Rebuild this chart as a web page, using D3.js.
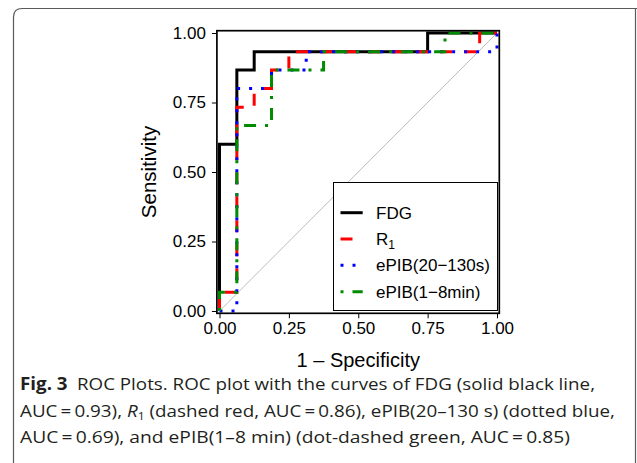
<!DOCTYPE html>
<html><head><meta charset="utf-8">
<script src="https://cdn.jsdelivr.net/npm/d3@7"></script>
<style>
html,body{margin:0;padding:0;background:#fff;}
svg{display:block;}
</style></head>
<body>
<svg id="chart" width="637" height="463"></svg>
<script>
// ---- data ----
const seriesNames = ["FDG", "R1", "ePIB(20\u2212130s)", "ePIB(1\u22128min)"];
const fdgX   = [0, 0, 0.0625, 0.0625, 0.125, 0.125, 0.75, 0.75, 1];
const fdgY   = [0, 0.600, 0.600, 0.867, 0.867, 0.933, 0.933, 1, 1];
const r1X    = [0, 0, 0.0625, 0.0625, 0.125, 0.125, 0.1875, 0.1875, 0.25, 0.25, 0.9375, 0.9375, 1];
const r1Y    = [0, 0.067, 0.067, 0.733, 0.733, 0.800, 0.800, 0.867, 0.867, 0.933, 0.933, 1, 1];
const ePib1X = [0, 0.0625, 0.0625, 0.1875, 0.1875, 0.3125, 0.3125, 1, 1];
const ePib1Y = [0, 0, 0.800, 0.800, 0.867, 0.867, 0.933, 0.933, 1];
const ePib2X = [0, 0, 0.0625, 0.0625, 0.1875, 0.1875, 0.375, 0.375, 0.8125, 0.8125, 1];
const ePib2Y = [0, 0.067, 0.067, 0.667, 0.667, 0.867, 0.867, 0.933, 0.933, 1, 1];
const tickValues = [0, 0.25, 0.5, 0.75, 1];
const tickLabels = ["0.00", "0.25", "0.50", "0.75", "1.00"];
const xTitle = "1 \u2013 Specificity";
const yTitle = "Sensitivity";

(function () {
const svg = d3.select("#chart");
const x = d3.scaleLinear().domain([0, 1]).range([219.5, 497]);
const y = d3.scaleLinear().domain([0, 1]).range([311, 33]);
const pad = 2.3;

// outer frame
svg.append("path")
  .attr("d", "M13.5,470 L13.5,17 Q13.5,8.5 22,8.5 L640,8.5")
  .attr("fill", "none").attr("stroke", "#5a5a5a").attr("stroke-width", 1.2);
svg.append("line").attr("x1", 635.5).attr("x2", 635.5).attr("y1", 8).attr("y2", 470)
  .attr("stroke", "#5a5a5a").attr("stroke-width", 1.2);

// diagonal
svg.append("line")
  .attr("x1", x(0)).attr("y1", y(0)).attr("x2", x(1)).attr("y2", y(1))
  .attr("stroke", "#bcbcbc").attr("stroke-width", 1);

const styles = [
  {xs: fdgX, ys: fdgY, color: "#000000", dash: null},
  {xs: r1X, ys: r1Y, color: "#ff0000", dash: "12,12"},
  {xs: ePib1X, ys: ePib1Y, color: "#0000ff", dash: "3,9"},
  {xs: ePib2X, ys: ePib2Y, color: "#008b00", dash: "3,9,12,9"}
];
const line = d3.line().x(d => x(d[0])).y(d => y(d[1]));
styles.forEach(s => {
  const pts = s.xs.map((v, i) => [v, s.ys[i]]);
  svg.append("path").datum(pts).attr("d", line)
    .attr("fill", "none").attr("stroke", s.color).attr("stroke-width", 3)
    .attr("stroke-linecap", "butt").attr("stroke-linejoin", "miter")
    .attr("stroke-dasharray", s.dash);
});

// axes
const font = "'Liberation Sans', Arial, Helvetica, sans-serif";
const pLeft = x(0) - pad - 0.3, pRight = x(1) + pad, pTop = y(1) - pad, pBottom = y(0) + pad;
const xAxis = d3.axisBottom(x).tickValues(tickValues).tickFormat((d, i) => tickLabels[i])
  .tickSize(5).tickPadding(4);
const gx = svg.append("g").attr("transform", `translate(0,${pBottom})`).call(xAxis);
gx.select(".domain").remove();
gx.selectAll("text").attr("font-family", font).attr("font-size", 17).attr("fill", "#000");
gx.selectAll("line").attr("stroke", "#000");
const yAxis = d3.axisLeft(y).tickValues(tickValues).tickFormat((d, i) => tickLabels[i])
  .tickSize(5).tickPadding(6);
const gy = svg.append("g").attr("transform", `translate(${pLeft},0)`).call(yAxis);
gy.select(".domain").remove();
gy.selectAll("text").attr("font-family", font).attr("font-size", 17).attr("fill", "#000");
gy.selectAll("line").attr("stroke", "#000");

svg.append("text").attr("x", x(0.5)).attr("y", 367).attr("text-anchor", "middle")
  .attr("font-family", font).attr("font-size", 20).text(xTitle);
svg.append("text").attr("transform", "translate(156,172) rotate(-90)").attr("text-anchor", "middle")
  .attr("font-family", font).attr("font-size", 20.5).text(yTitle);

// legend
const lg = svg.append("g");
lg.append("rect").attr("x", 333.5).attr("y", 182.5).attr("width", 164).attr("height", 128)
  .attr("fill", "#fff").attr("stroke", "#000").attr("stroke-width", 1);
const rowY = [212.7, 239, 265.3, 291.7];
styles.forEach((s, i) => {
  lg.append("line").attr("x1", 340.5).attr("x2", 362.7).attr("y1", rowY[i]).attr("y2", rowY[i])
    .attr("stroke", s.color).attr("stroke-width", 3).attr("stroke-dasharray", s.dash);
  const t = lg.append("text").attr("x", 376).attr("y", rowY[i] + 6)
    .attr("font-family", font).attr("font-size", 17).attr("fill", "#000");
  if (seriesNames[i] === "R1") {
    t.append("tspan").text("R");
    t.append("tspan").attr("font-size", 12).attr("dy", 4).text("1");
  } else t.text(seriesNames[i]);
});

// panel border
svg.append("rect").attr("x", pLeft).attr("y", pTop).attr("width", pRight - pLeft).attr("height", pBottom - pTop)
  .attr("fill", "none").attr("stroke", "#000").attr("stroke-width", 1.7);

// caption
const cf = "'Open Sans', 'Noto Sans', sans-serif";
const cx = 20;
const c1 = svg.append("text").attr("x", cx).attr("y", 390).attr("font-family", cf).attr("font-size", 17)
  .attr("textLength", 575).attr("lengthAdjust", "spacingAndGlyphs").attr("fill", "#231f20");
c1.append("tspan").attr("font-weight", "bold").text("Fig. 3");
c1.append("tspan").text("\u2002ROC Plots. ROC plot with the curves of FDG (solid black line,");
const c2 = svg.append("text").attr("x", cx).attr("y", 417).attr("font-family", cf).attr("font-size", 17)
  .attr("textLength", 595).attr("lengthAdjust", "spacingAndGlyphs").attr("fill", "#231f20");
c2.append("tspan").text("AUC\u2009=\u20090.93), ");
c2.append("tspan").attr("font-style", "italic").text("R");
c2.append("tspan").attr("font-size", 11).attr("dy", 3).text("1");
c2.append("tspan").attr("dy", -3).text(" (dashed red, AUC\u2009=\u20090.86), ePIB(20\u2013130 s) (dotted blue,");
const c3 = svg.append("text").attr("x", cx).attr("y", 443).attr("font-family", cf).attr("font-size", 17)
  .attr("textLength", 550).attr("lengthAdjust", "spacingAndGlyphs").attr("fill", "#231f20")
  .text("AUC\u2009=\u20090.69), and ePIB(1\u20138 min) (dot-dashed green, AUC\u2009=\u20090.85)");
})();
</script>
</body></html>
